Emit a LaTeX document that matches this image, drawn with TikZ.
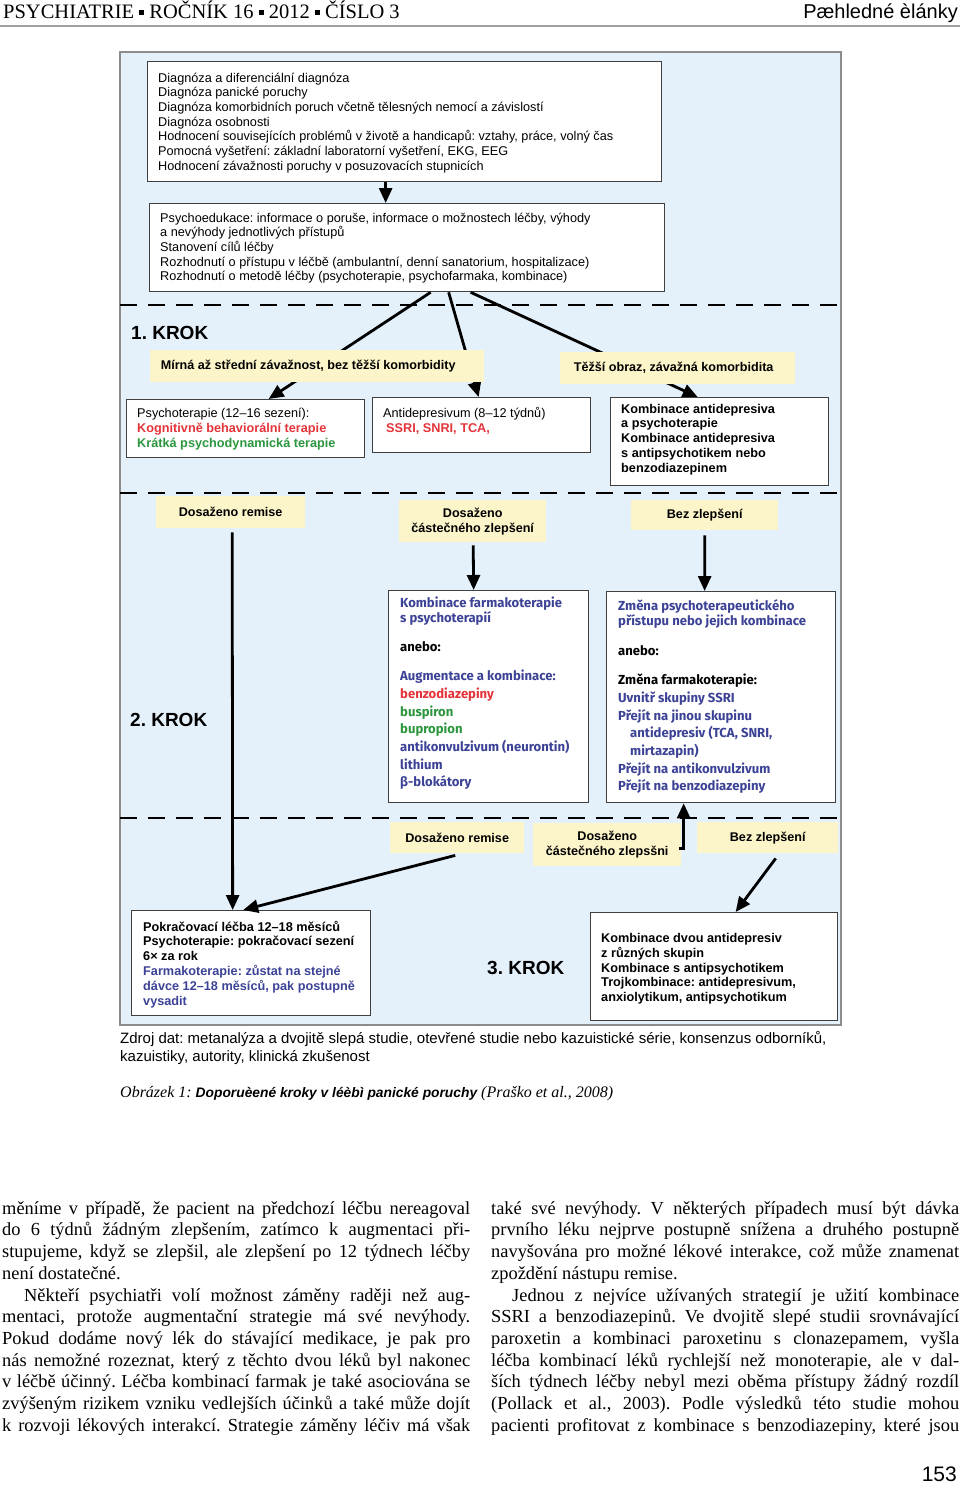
\documentclass[tikz,border=0pt]{standalone}
\usepackage{fontspec}
\setmainfont{Liberation Serif}
\setsansfont{Liberation Sans}
\newfontfamily\comicfont{Fira Sans}
\usetikzlibrary{arrows.meta}

\definecolor{bgblue}{RGB}{228,241,250}
\definecolor{tagyellow}{RGB}{252,245,201}
\definecolor{navy}{RGB}{60,66,150}
\definecolor{redtxt}{RGB}{228,52,58}
\definecolor{greentxt}{RGB}{44,150,62}
\definecolor{rulegrey}{RGB}{160,160,160}
\definecolor{panelgrey}{RGB}{140,140,140}

\newcommand{\sqmark}{\raisebox{4pt}{\rule{5pt}{5pt}}}
\newcommand{\jline}[1]{\makebox[468pt][s]{#1}}
\newcommand{\lline}[1]{\makebox[468pt][l]{#1}}
\frenchspacing

\begin{document}
\begin{tikzpicture}[x=1pt, y=-1pt, >={Triangle[length=15pt,width=13pt]},
  whitebox/.style={draw=black!75, line width=1.3pt, fill=white, inner sep=0pt, anchor=north west},
  tag/.style={fill=tagyellow, inner sep=0pt, anchor=north west, align=center,
    font=\sffamily\bfseries\fontsize{12.6}{15}\selectfont},
  txt/.style={anchor=north west, inner sep=0pt, align=left},
  plain/.style={txt, font=\sffamily\fontsize{12.7}{14.7}\selectfont},
  heavy/.style={txt, font=\sffamily\bfseries\fontsize{12.7}{14.7}\selectfont},
  comic/.style={txt, font=\comicfont\bfseries\fontsize{13.1}{17.7}\selectfont, text=navy},
  krok/.style={anchor=base west, inner sep=0pt, font=\sffamily\bfseries\fontsize{19}{19}\selectfont},
  flow/.style={->, line width=2.8pt},
  stepline/.style={line width=2.6pt, dash pattern=on 17pt off 11pt},
  body/.style={txt, font=\rmfamily\fontsize{18.4}{21.7}\selectfont},
]
\useasboundingbox (0,0) rectangle (960,1485);

% page head
\node[anchor=base west, inner sep=0pt, font=\rmfamily\fontsize{20.5}{20.5}\selectfont] (journal) at (3,19)
  {PSYCHIATRIE \sqmark{} ROČNÍK 16 \sqmark{} 2012 \sqmark{} ČÍSLO 3};
\node[anchor=base east, inner sep=0pt, font=\sffamily\fontsize{20}{20}\selectfont] (section) at (958,19) {Pæhledné èlánky};
\draw[rulegrey, line width=1.6pt] (0,26) -- (960,26);

% panel and step separators
\draw[draw=panelgrey, fill=bgblue, line width=1.2pt] (120,52) rectangle (841,1025);
\foreach \y in {305,493,818}
  \draw[stepline] (120,\y) -- (841,\y);

% boxes
\node[whitebox, minimum width=514pt, minimum height=120pt] (diag) at (147,61) {};
\node[whitebox, minimum width=515pt, minimum height=88pt] (edu) at (149,203) {};
\node[whitebox, minimum width=238pt, minimum height=58pt] (psycho) at (126,399) {};
\node[whitebox, minimum width=218pt, minimum height=55pt] (antidep) at (372,397) {};
\node[whitebox, minimum width=218pt, minimum height=88pt] (combo) at (610,397) {};
\node[whitebox, minimum width=200pt, minimum height=212pt] (augment) at (388,590) {};
\node[whitebox, minimum width=229pt, minimum height=211pt] (switch) at (606,591) {};
\node[whitebox, minimum width=239pt, minimum height=105pt] (maintain) at (131,910) {};
\node[whitebox, minimum width=247pt, minimum height=108pt] (triple) at (590,912) {};

\node[plain] (diagtxt) at ([shift={(11,10.7)}]diag.north west) {\strut Diagnóza a diferenciální diagnóza\\
  Diagnóza panické poruchy\\
  Diagnóza komorbidních poruch včetně tělesných nemocí a závislostí\\
  Diagnóza osobnosti\\
  Hodnocení souvisejících problémů v životě a handicapů: vztahy, práce, volný čas\\
  Pomocná vyšetření: základní laboratorní vyšetření, EKG, EEG\\
  Hodnocení závažnosti poruchy v posuzovacích stupnicích};
\node[plain] (edutxt) at ([shift={(11,8.7)}]edu.north west) {\strut Psychoedukace: informace o poruše, informace o možnostech léčby, výhody\\
  a nevýhody jednotlivých přístupů\\
  Stanovení cílů léčby\\
  Rozhodnutí o přístupu v léčbě (ambulantní, denní sanatorium, hospitalizace)\\
  Rozhodnutí o metodě léčby (psychoterapie, psychofarmaka, kombinace)};
\node[plain, font=\sffamily\fontsize{12.7}{15}\selectfont] (psychotxt) at ([shift={(11,7.5)}]psycho.north west)
  {\strut Psychoterapie (12–16 sezení):\\
  {\bfseries\color{redtxt}Kognitivně behaviorální terapie}\\
  {\bfseries\color{greentxt}Krátká psychodynamická terapie}};
\node[plain, font=\sffamily\fontsize{12.7}{15}\selectfont] (antideptxt) at ([shift={(11,9.5)}]antidep.north west)
  {\strut Antidepresivum (8–12 týdnů)\\
  \hspace*{3pt}{\bfseries\color{redtxt}SSRI, SNRI, TCA,}};
\node[heavy, font=\sffamily\bfseries\fontsize{12.7}{14.75}\selectfont] (combotxt) at ([shift={(11,5.7)}]combo.north west)
  {\strut Kombinace antidepresiva\\ a psychoterapie\\ Kombinace antidepresiva\\
  s antipsychotikem nebo\\ benzodiazepinem};
\node[comic] (augmenttxt) at ([shift={(12,5.1)}]augment.north west)
  {\strut Kombinace farmakoterapie\\[-2.7pt]
  s psychoterapií\\[11.3pt]
  {\color{black}anebo:}\\[11.3pt]
  Augmentace a kombinace:\\
  {\color{redtxt}benzodiazepiny}\\
  {\color{greentxt}buspiron}\\
  {\color{greentxt}bupropion}\\
  antikonvulzivum (neurontin)\\
  lithium\\
  β-blokátory};
\node[comic] (switchtxt) at ([shift={(12,7.1)}]switch.north west)
  {\strut Změna psychoterapeutického\\[-2.7pt]
  přístupu nebo jejich kombinace\\[12.3pt]
  {\color{black}anebo:}\\[11.3pt]
  {\color{black}Změna farmakoterapie:}\\
  Uvnitř skupiny SSRI\\
  Přejít na jinou skupinu\\
  \hspace*{12pt}antidepresiv (TCA, SNRI,\\
  \hspace*{12pt}mirtazapin)\\
  Přejít na antikonvulzivum\\
  Přejít na benzodiazepiny};
\node[heavy, font=\sffamily\bfseries\fontsize{12.7}{14.8}\selectfont] (maintaintxt) at ([shift={(12,10.6)}]maintain.north west)
  {\strut Pokračovací léčba 12–18 měsíců\\
  Psychoterapie: pokračovací sezení\\
  6× za rok\\
  {\color{navy}Farmakoterapie: zůstat na stejné}\\
  {\color{navy}dávce 12–18 měsíců, pak postupně}\\
  {\color{navy}vysadit}};
\node[heavy, font=\sffamily\bfseries\fontsize{12.7}{14.5}\selectfont] (tripletxt) at ([shift={(11,19.9)}]triple.north west)
  {\strut Kombinace dvou antidepresiv\\
  z různých skupin\\
  Kombinace s antipsychotikem\\
  Trojkombinace: antidepresivum,\\
  anxiolytikum, antipsychotikum};

\node[krok] (step1) at (131,339) {1. KROK};
\node[krok] (step2) at (130,726) {2. KROK};
\node[krok] (step3) at (487,974) {3. KROK};

% step 1
\draw[flow] ([xshift=-19pt]diag.south) -- ([xshift=-21.5pt]edu.north);
\draw[flow] ([xshift=23.5pt]edu.south) -- ([xshift=23pt]psycho.north);
\draw[flow] ([xshift=41.5pt]edu.south) -- ([xshift=-3pt]antidep.north);
\draw[flow] ([xshift=63.5pt]edu.south) -- ([xshift=-22pt]combo.north);

\node[tag, minimum width=334pt, minimum height=32pt] (mild) at (150,350) {Mírná až střední závažnost, bez těžší komorbidity\hspace*{18pt}};
\node[tag, minimum width=235pt, minimum height=32pt] (severe) at (560,352) {Těžší obraz, závažná komorbidita\hspace*{8pt}};

% step 2
\node[tag, minimum width=149pt, minimum height=32pt] (remission) at (156,496) {Dosaženo remise};
\node[tag, minimum width=147pt, minimum height=42pt] (partial) at (399,500) {Dosaženo\\ částečného zlepšení};
\node[tag, minimum width=147pt, minimum height=30pt] (noresponse) at (631,500) {Bez zlepšení};

\draw[flow] ([xshift=1.5pt,yshift=-4pt]remission.south) -- ([xshift=-18.5pt]maintain.north);
\draw[flow] ([xshift=0.5pt,yshift=-3pt]partial.south) -- ([xshift=-15pt]augment.north);
\draw[flow] ([yshift=-5pt]noresponse.south) -- ([xshift=-16.5pt]switch.north);

% step 3
\node[tag, minimum width=134pt, minimum height=31pt] (remissionb) at (390,822) {Dosaženo remise};
\node[tag, minimum width=148pt, minimum height=43pt] (partialb) at (533,823) {Dosaženo\\ částečného zlepsšni};
\node[tag, minimum width=141pt, minimum height=31pt] (noresponseb) at (697,822) {Bez zlepšení};

\draw[flow] ([xshift=-2pt,yshift=-2pt]remissionb.south) -- ([xshift=-8pt]maintain.north);
\draw[flow] ([xshift=-2pt,yshift=-4pt]partialb.east) -| ([xshift=-37.5pt]switch.south);
\draw[flow] ([xshift=8pt,yshift=-5pt]noresponseb.south) -- ([xshift=21.5pt]triple.north);

% source and caption
\node[txt, font=\sffamily\fontsize{15}{18}\selectfont] (source) at (120,1030.4)
  {\strut Zdroj dat: metanalýza a dvojitě slepá studie, otevřené studie nebo kazuistické série, konsenzus odborníků,\\
  kazuistiky, autority, klinická zkušenost};
\node[anchor=base west, inner sep=0pt, font=\rmfamily\itshape\fontsize{16}{18}\selectfont] (caption) at (120,1097)
  {Obrázek 1: {\sffamily\bfseries\fontsize{13.8}{18}\selectfont Doporuèené kroky v léèbì panické poruchy} (Praško et al., 2008)};

% body text
\node[body] (colA) at (2,1198.8) {\strut\jline{měníme v případě, že pacient na předchozí léčbu nereagoval}\\
  \jline{do 6 týdnů žádným zlepšením, zatímco k augmentaci při-}\\
  \jline{stupujeme, když se zlepšil, ale zlepšení po 12 týdnech léčby}\\
  \lline{není dostatečné.}\\
  \jline{\hspace*{22pt}Někteří psychiatři volí možnost záměny raději než aug-}\\
  \jline{mentaci, protože augmentační strategie má své nevýhody.}\\
  \jline{Pokud dodáme nový lék do stávající medikace, je pak pro}\\
  \jline{nás nemožné rozeznat, který z těchto dvou léků byl nakonec}\\
  \jline{v léčbě účinný. Léčba kombinací farmak je také asociována se}\\
  \jline{zvýšeným rizikem vzniku vedlejších účinků a také může dojít}\\
  \jline{k rozvoji lékových interakcí. Strategie záměny léčiv má však}};
\node[body] (colB) at (491,1198.8) {\strut\jline{také své nevýhody. V některých případech musí být dávka}\\
  \jline{prvního léku nejprve postupně snížena a druhého postupně}\\
  \jline{navyšována pro možné lékové interakce, což může znamenat}\\
  \lline{zpoždění nástupu remise.}\\
  \jline{\hspace*{21pt}Jednou z nejvíce užívaných strategií je užití kombinace}\\
  \jline{SSRI a benzodiazepinů. Ve dvojitě slepé studii srovnávající}\\
  \jline{paroxetin a kombinaci paroxetinu s clonazepamem, vyšla}\\
  \jline{léčba kombinací léků rychlejší než monoterapie, ale v dal-}\\
  \jline{ších týdnech léčby nebyl mezi oběma přístupy žádný rozdíl}\\
  \jline{(Pollack et al., 2003). Podle výsledků této studie mohou}\\
  \jline{pacienti profitovat z kombinace s benzodiazepiny, které jsou}};

\node[anchor=base east, inner sep=0pt, font=\sffamily\fontsize{21}{21}\selectfont] (folio) at (957,1481) {153};
\end{tikzpicture}
\end{document}
